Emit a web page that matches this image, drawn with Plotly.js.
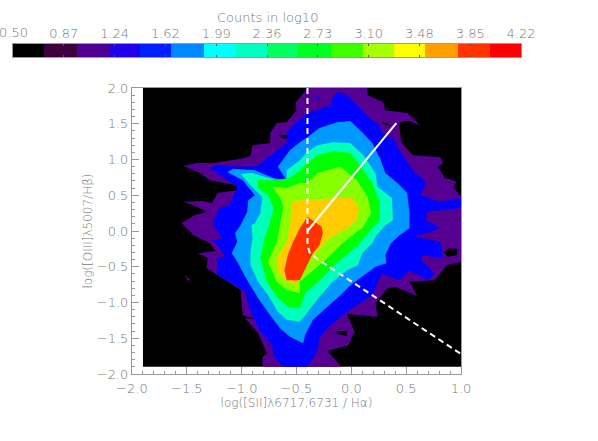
<!DOCTYPE html>
<html>
<head>
<meta charset="utf-8">
<script src="https://cdn.plot.ly/plotly-3.0.1.min.js"></script>
<style>html,body{margin:0;padding:0;background:#fff}</style>
</head>
<body>
<div id="chart" style="width:598px;height:441px"></div>
<script>
// colour bar, 16 bands
var barEdges = [0.5,0.73,0.97,1.20,1.43,1.66,1.90,2.13,2.36,2.59,2.83,3.06,3.29,3.52,3.76,3.99,4.22];
var barColors = ['#000000','#3c0040','#500090','#2000e8','#0020ff','#0088ff','#00ffff','#00ffc0',
                 '#00ff60','#00ff20','#40ff00','#a8ff00','#ffff00','#ffa000','#ff3300','#ff0000'];
var barTicks = [0.5,0.872,1.244,1.616,1.988,2.36,2.732,3.104,3.476,3.848,4.22];
var barLabels = ['0.50','0.87','1.24','1.62','1.99','2.36','2.73','3.10','3.48','3.85','4.22'];

// counted field
var fieldX = [-1.9,1,1,-1.9];
var fieldY = [2,2,-1.9,-1.9];

// contour outlines, outermost first
var purpleX = [-.40,.14,.15,.29,.31,.51,.63,.53,.44,.44,.46,.56,.67,.81,.84,.79,.85,.96,.93,.99,1,1,.87,.76,.53,.60,.40,.33,.22,.24,-.04,.03,-.03,-.22,-.09,-.81,-.81,-.77,-.85,-.97,-.88,-.99,-1.01,-1.13,-1.22,-1.32,-1.31,-1.40,-1.24,-1.29,-1.44,-1.55,-1.43,-1.32,-1.41,-1.53,-1.36,-1.27,-1.22,-1.04,-1.05,-1.29,-1.38,-1.44,-1.53,-1.41,-1.26,-1.01,-.92,-.90,-.74,-.74,-.68,-.59,-.50,-.51];
var purpleY = [2,2,1.90,1.80,1.69,1.65,1.48,1.54,1.52,1.41,1.23,1.06,1.05,1.03,.95,.90,.75,.69,.62,.50,.50,-.43,-.48,-.69,-.71,-.91,-.78,-.80,-1.01,-1.20,-1.16,-1.41,-1.60,-1.68,-1.90,-1.90,-1.76,-1.71,-1.43,-1.22,-1.23,-1.18,-.82,-.71,-.62,-.52,-.38,-.31,-.28,-.17,-.06,.11,.22,.27,.34,.41,.42,.39,.53,.57,.64,.71,.81,.85,.91,.95,.95,1.01,1.05,1.20,1.23,1.37,1.51,1.52,1.69,1.79];
var holeX = [.84,.90,.97,.96,.88,null,-.67,-.60,-.55,-.61,null,.28,.33,.36,.31,null,-.15,-.04,-.04,-.12];
var holeY = [-.29,-.24,-.25,-.34,-.36,null,1.34,1.34,1.30,1.29,null,1.52,1.51,1.47,1.48,null,-1.40,-1.40,-1.47,-1.44];
var blueX = [-.13,-.08,-.01,.10,.19,.26,.28,.40,.42,.58,.67,.67,.63,.81,1,1,.69,.68,.81,.58,.81,.84,.65,.64,.76,.70,.53,.44,.38,.28,.19,.03,-.08,-.22,-.29,-.31,-.40,-.62,-.71,-.72,-.83,-.92,-.97,-1.13,-1.22,-1.22,-1.15,-1.22,-1.27,-1.18,-1.26,-1.26,-1.20,-1.11,-1.04,-1.13,-1.29,-1.22,-1.01,-.85,-.74,-.59,-.59,-.50,-.40,-.19,-.17,null,-.35,-.29,-.30];
var blueY = [1.94,1.93,1.86,1.69,1.55,1.48,1.37,1.27,1.17,.81,.71,.62,.50,.41,.46,.32,.27,.15,.04,-.08,-.15,-.38,-.34,-.41,-.59,-.69,-.55,-.69,-.66,-.59,-.90,-1.06,-1.18,-1.36,-1.50,-1.69,-1.90,-1.90,-1.76,-1.60,-1.41,-1.13,-.85,-.69,-.62,-.38,-.36,-.20,-.13,-.10,.08,.13,.32,.36,.62,.71,.88,.92,.90,.91,1.06,1.23,1.38,1.52,1.65,1.76,1.87,null,1.90,1.87,1.83];
var islandX = [.72,.84,.80,null,-1.00,-1.01,-1.11,null,-1.52,-1.47,-1.49,null,.19,.24,.20];
var islandY = [-.03,-.10,-.13,null,.96,.98,1.11,null,-.62,-.68,-.70,null,-.96,-1.02,-.98];
var azureX = [-1.13,-1.08,-.88,-.71,-.59,-.67,-.56,-.47,-.40,-.29,-.13,-.01,.10,.19,.26,.31,.42,.51,.53,.53,.44,.36,.31,.32,.22,.08,-.01,-.10,-.22,-.35,-.42,-.44,-.56,-.65,-.74,-.85,-.95,-1.04,-1.09,-1.04,-1.06,-1.01,-.95,-.94,-.88,-.99];
var azureY = [.82,.87,.85,.74,.71,.90,1.13,1.24,1.31,1.44,1.52,1.54,1.38,1.23,1.02,.81,.67,.53,.25,.04,-.06,-.17,-.34,-.45,-.50,-.66,-.76,-.90,-1.06,-1.24,-1.45,-1.57,-1.48,-1.36,-1.18,-.94,-.69,-.43,-.31,-.15,-.03,.08,.27,.43,.50,.71];
var springX = [-1.01,-.90,-.77,-.68,-.59,-.59,-.47,-.40,-.31,-.17,-.01,.11,.22,.24,.37,.38,.31,.23,.19,.10,.06,-.04,-.17,-.29,-.42,-.47,-.59,-.67,-.76,-.85,-.92,-.92,-.90,-.91,-.88,-.83,-.81,-.92];
var springY = [.80,.81,.75,.71,.69,.85,.99,1.11,1.20,1.24,1.23,1.06,.81,.62,.46,.15,.08,-.06,-.17,-.31,-.48,-.55,-.71,-.92,-1.18,-1.27,-1.24,-1.13,-.90,-.71,-.48,-.29,-.10,.08,.11,.25,.47,.64];
var greenX = [-.85,-.71,-.56,-.47,-.40,-.31,-.17,-.01,.08,.19,.26,.26,.19,.15,.06,-.08,-.17,-.29,-.42,-.47,-.58,-.68,-.77,-.83,-.79,-.75,-.71,-.76,-.85];
var greenY = [.71,.71,.74,.85,.95,1.06,1.12,1.09,.92,.67,.41,.15,.04,-.03,-.20,-.38,-.50,-.69,-.87,-1.08,-1.06,-.92,-.71,-.38,-.10,.08,.32,.50,.60];
var limeX = [-.72,-.59,-.47,-.40,-.31,-.10,.05,.15,.18,.10,.05,-.08,-.22,-.35,-.47,-.47,-.59,-.68,-.76,-.68,-.65,-.62,-.65];
var limeY = [.62,.60,.67,.67,.81,.90,.71,.47,.25,.04,-.01,-.17,-.38,-.55,-.71,-.87,-.82,-.71,-.43,-.15,.08,.34,.47];
var goldX = [-.54,-.47,-.10,.01,.07,.05,-.04,-.18,-.38,-.47,-.49,-.59,-.67,-.68,-.59,-.56];
var goldY = [.41,.43,.46,.47,.32,.15,.04,-.08,-.38,-.57,-.76,-.70,-.57,-.38,-.15,.08];
var redX = [-.40,-.33,-.27,-.26,-.29,-.35,-.42,-.47,-.59,-.61,-.58,-.53,-.47];
var redY = [.20,.13,.06,-.03,-.20,-.31,-.52,-.69,-.69,-.55,-.34,-.15,.04];

// diagnostic lines
var solidX = [-.4,.41];
var solidY = [0,1.51];
var dashX = [-.4,-.4,-.38,-.32,1];
var dashY = [2,-.2,-.3,-.38,-1.72];

var grey = '#777777';
var font = {family: 'DejaVu Sans Light, DejaVu Sans, sans-serif', size: 13, color: grey};

function area(x, y, color) {
    return {x: x, y: y, type: 'scatter', mode: 'lines', fill: 'toself', fillcolor: color,
            line: {width: 0, color: color}, hoverinfo: 'skip'};
}

var barScale = barColors.map(function(c, i) { return [i / (barColors.length - 1), c]; });
var barZ = [barColors.map(function(c, i) { return i; })];

var data = [
    area(fieldX, fieldY, '#000000'),
    area(purpleX, purpleY, '#550090'),
    area(holeX, holeY, '#000000'),
    area(blueX, blueY, '#0000ff'),
    area(islandX, islandY, '#550090'),
    area(azureX, azureY, '#0099ff'),
    area(springX, springY, '#00ffbb'),
    area(greenX, greenY, '#00ff00'),
    area(limeX, limeY, '#88ff00'),
    area(goldX, goldY, '#ffcc00'),
    area(redX, redY, '#ff3300'),
    {x: solidX, y: solidY, type: 'scatter', mode: 'lines', line: {color: '#ffffff', width: 2}},
    {x: dashX, y: dashY, type: 'scatter', mode: 'lines', line: {color: '#ffffff', width: 2, dash: '6px,4px'}},
    {x: barEdges, z: barZ, y: [0, 1], type: 'heatmap', xaxis: 'x2', yaxis: 'y2', colorscale: barScale,
     zmin: 0, zmax: 15, showscale: false, hoverinfo: 'skip'}
];

var axisCommon = {
    showgrid: false, zeroline: false, showline: true, mirror: true, linecolor: '#999999', linewidth: 1,
    ticks: 'inside', ticklen: 7, tickcolor: '#999999', tickwidth: 1, dtick: 0.5, tickformat: '.1f',
    tickfont: font,
    minor: {dtick: 0.1, ticks: 'inside', ticklen: 3, tickcolor: '#999999', tickwidth: 1, showgrid: false}
};

var layout = {
    width: 598, height: 441, showlegend: false,
    margin: {l: 0, r: 0, t: 0, b: 0},
    paper_bgcolor: '#ffffff', plot_bgcolor: '#ffffff',
    font: font,
    xaxis: Object.assign({}, axisCommon, {
        domain: [132 / 598, 461 / 598], range: [-2, 1], tick0: -2, ticklabelstandoff: 2,
        title: {text: 'log([SII]λ6717,6731 / Hα)', font: {family: font.family, size: 12, color: grey}, standoff: 4}
    }),
    yaxis: Object.assign({}, axisCommon, {
        domain: [1 - 374 / 441, 1 - 88 / 441], range: [-2, 2], tick0: -2,
        title: {text: 'log([OIII]λ5007/Hβ)', font: {family: font.family, size: 12, color: grey}, standoff: 1}
    }),
    xaxis2: {
        anchor: 'y2', side: 'top', domain: [13 / 598, 521 / 598], range: [0.5, 4.22],
        tickmode: 'array', tickvals: barTicks.slice(1), ticktext: barLabels.slice(1), tickfont: font,
        ticks: 'inside', ticklen: 2, tickcolor: '#555555', showgrid: false, zeroline: false,
        showline: true, linecolor: '#999999', mirror: 'ticks'
    },
    yaxis2: {
        anchor: 'x2', domain: [1 - 57 / 441, 1 - 44 / 441], range: [0, 1],
        showticklabels: false, ticks: '', showgrid: false, zeroline: false,
        showline: true, linecolor: '#999999', mirror: true
    },
    annotations: [
        // the first bar label hangs off the page, plotly drops it as a tick
        {text: barLabels[0], xref: 'x2', x: barTicks[0], yref: 'paper', y: 1 - 33 / 441,
         xanchor: 'center', yanchor: 'middle', showarrow: false, font: font},
        {text: 'Counts in log10', xref: 'x2', x: 2.36, yref: 'paper', y: 1 - 17 / 441,
         xanchor: 'center', yanchor: 'middle', showarrow: false, font: font}
    ]
};

Plotly.newPlot('chart', data, layout, {displayModeBar: false, staticPlot: true});
</script>
</body>
</html>
